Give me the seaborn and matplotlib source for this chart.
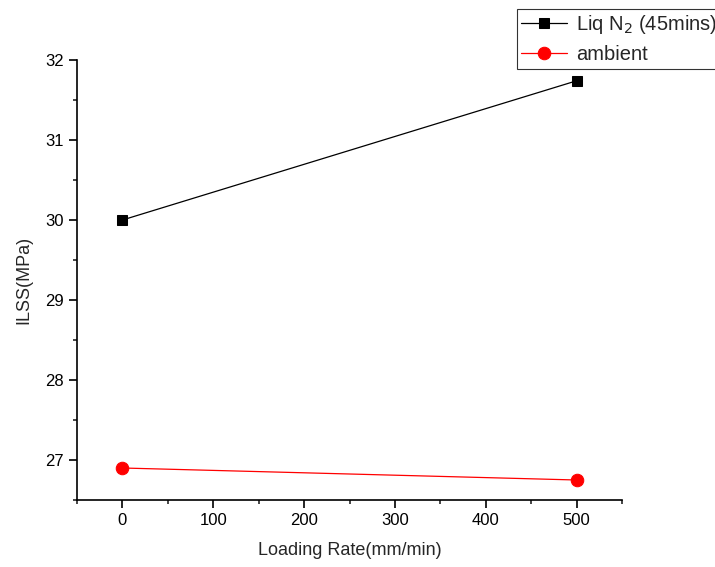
import pandas as pd
import matplotlib.pyplot as plt
import seaborn as sns
from matplotlib.ticker import MultipleLocator

# data
loading_rate = [0, 500]
liq_n2 = [30.0, 31.74]
ambient = [26.9, 26.75]

sns.set_theme(style="ticks")
plt.rcParams['font.family'] = ['Liberation Sans', 'DejaVu Sans']

fig = plt.figure(figsize=(7.15, 5.67), dpi=100)
ax = fig.add_axes([77 / 715, 1 - 500 / 567, (622 - 77) / 715, (500 - 60) / 567])

df1 = pd.DataFrame({"rate": loading_rate, "ilss": liq_n2})
df2 = pd.DataFrame({"rate": loading_rate, "ilss": ambient})
sns.lineplot(data=df1, x="rate", y="ilss", ax=ax, color="black", marker="s",
             markersize=7, markeredgecolor="black", linewidth=0.9,
             label="Liq N$_2$ (45mins)")
sns.lineplot(data=df2, x="rate", y="ilss", ax=ax, color="red", marker="o",
             markersize=9, markeredgecolor="red", linewidth=0.9,
             label="ambient")

ax.set_xlim(-50, 550)
ax.set_ylim(26.5, 32)
ax.xaxis.set_major_locator(MultipleLocator(100))
ax.xaxis.set_minor_locator(MultipleLocator(50))
ax.yaxis.set_major_locator(MultipleLocator(1))
ax.yaxis.set_minor_locator(MultipleLocator(0.5))
ax.tick_params(which="major", direction="out", length=6, width=1.2, labelsize=12, colors="black")
ax.tick_params(which="minor", direction="out", length=3, width=1.2)
for s in ["top", "right"]:
    ax.spines[s].set_visible(False)
for s in ["left", "bottom"]:
    ax.spines[s].set_linewidth(1.2)
    ax.spines[s].set_color("black")

ax.set_xlabel("Loading Rate(mm/min)", fontsize=13, labelpad=10)
ax.set_ylabel("ILSS(MPa)", fontsize=13, labelpad=9)

leg = ax.legend(loc="upper left", bbox_to_anchor=(517 / 715, 1 - 9 / 567),
                bbox_transform=fig.transFigure, fontsize=14.5, frameon=True,
                fancybox=False, edgecolor="black", handlelength=2.25,
                borderpad=0.22, labelspacing=0.45, handletextpad=0.45,
                borderaxespad=0)
leg.get_frame().set_linewidth(0.8)

fig.savefig("out.png", dpi=100)
